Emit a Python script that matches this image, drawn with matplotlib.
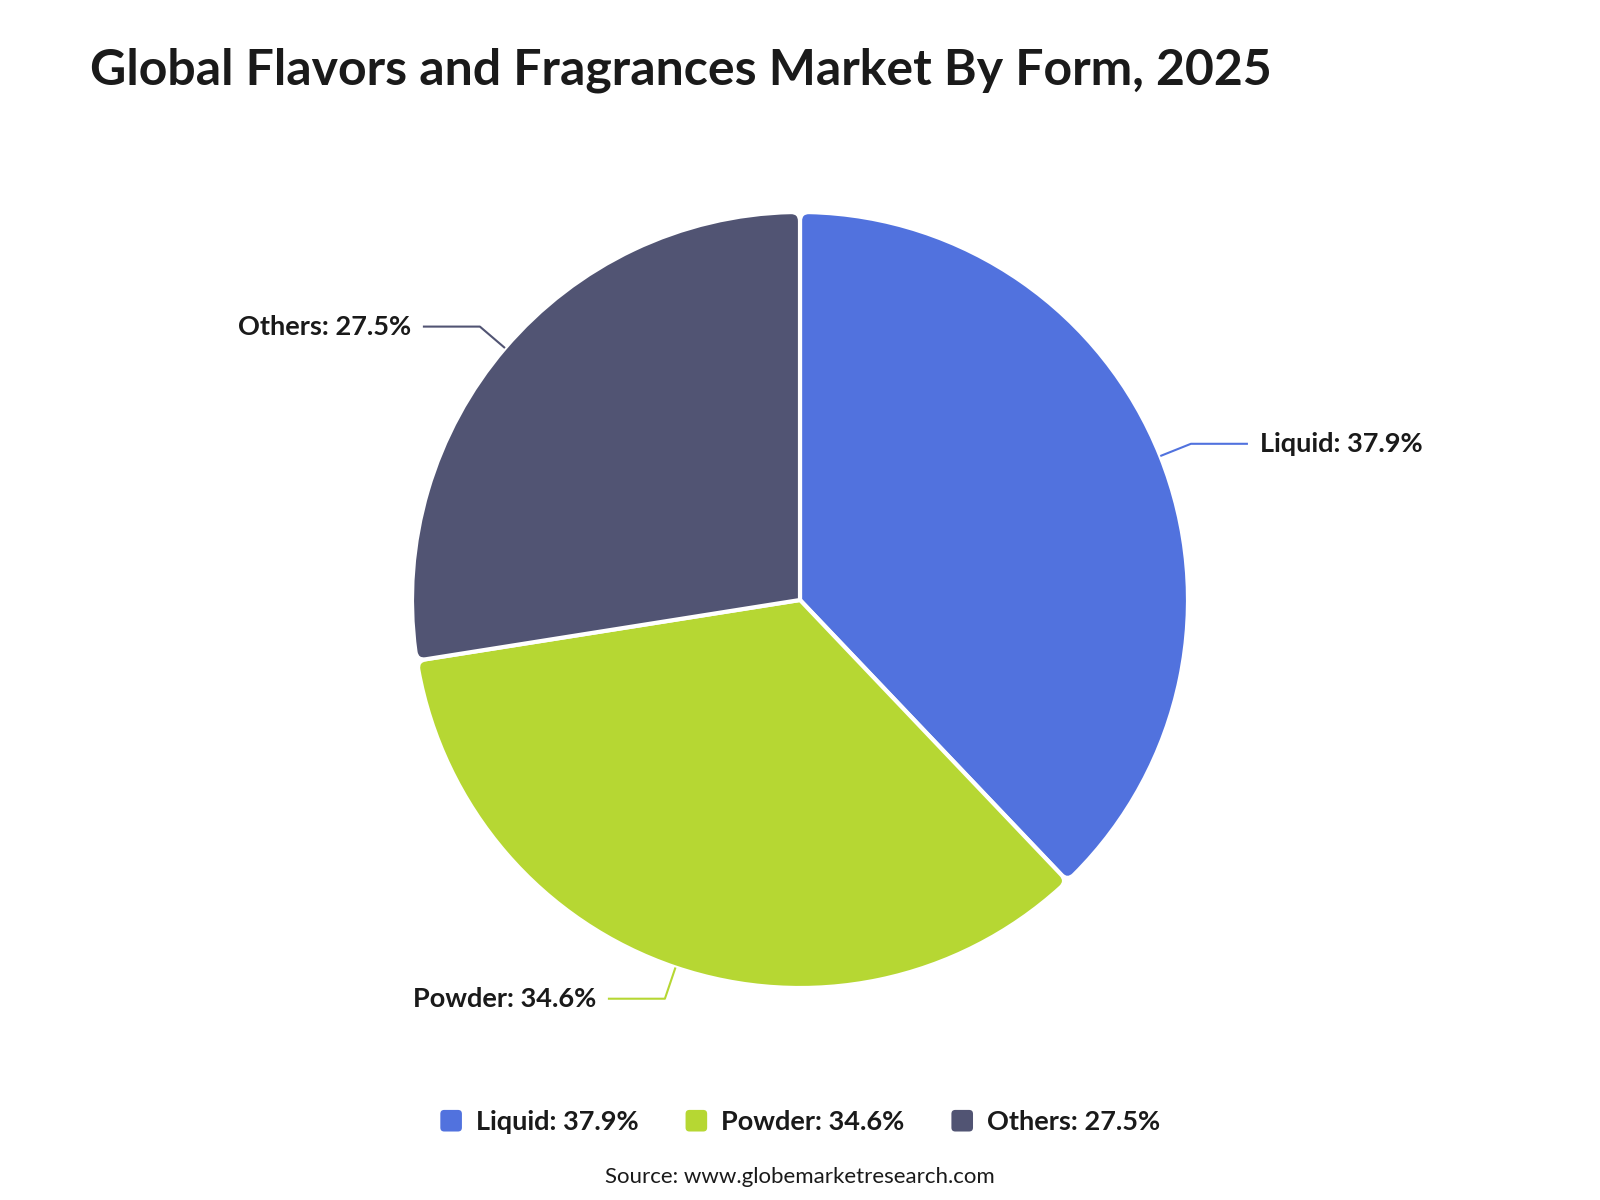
import numpy as np
import matplotlib
matplotlib.use("Agg")
import matplotlib.pyplot as plt
from matplotlib.patches import Patch, PathPatch, FancyBboxPatch
from matplotlib.path import Path
from matplotlib.legend_handler import HandlerPatch

categories = ["Liquid", "Powder", "Others"]
shares = [37.9, 34.6, 27.5]
colors = ["#5172DE", "#B6D733", "#515473"]
title = "Global Flavors and Fragrances Market By Form, 2025"
source = "Source: www.globemarketresearch.com"

FONT = ["Lato", "DejaVu Sans"]
plt.rcParams["font.family"] = FONT

W, H = 1600, 1200
fig = plt.figure(figsize=(16, 12), dpi=100)
ax = fig.add_axes([0, 0, 1, 1])

cx, cy, R = 800, 600, 388
wedges, _ = ax.pie(shares, colors=colors, startangle=90, counterclock=False,
                   center=(cx, cy), radius=R, frame=True,
                   wedgeprops=dict(edgecolor="white", linewidth=3, joinstyle="round"))
ax.set_xlim(0, W)
ax.set_ylim(0, H)
ax.set_aspect("equal")
ax.axis("off")


def rounded_wedge_path(center, r, t1, t2, rc):
    c = np.asarray(center, float)
    a1, a2 = np.deg2rad(t1), np.deg2rad(t2)
    d = np.rad2deg(rc / r)
    u = lambda a: np.array([np.cos(a), np.sin(a)])
    arc = Path.arc(t1 + d, t2 - d)
    verts = [c, c + (r - rc) * u(a1), c + r * u(a1), c + r * u(a1 + np.deg2rad(d))]
    codes = [Path.MOVETO, Path.LINETO, Path.CURVE3, Path.CURVE3]
    verts += list(c + r * arc.vertices[1:])
    codes += list(arc.codes[1:])
    verts += [c + r * u(a2), c + (r - rc) * u(a2), c]
    codes += [Path.CURVE3, Path.CURVE3, Path.CLOSEPOLY]
    return Path(np.array(verts), codes)


for w in wedges:
    w.set_visible(False)
    p = rounded_wedge_path(w.center, w.r, w.theta1, w.theta2, 9)
    ax.add_patch(PathPatch(p, facecolor=w.get_facecolor(), edgecolor="white",
                           linewidth=3, joinstyle="round"))

labels = [f"{c}: {v}%" for c, v in zip(categories, shares)]
for w, lab, col in zip(wedges, labels, colors):
    mid = np.deg2rad((w.theta1 + w.theta2) / 2)
    x0, y0 = cx + R * np.cos(mid), cy + R * np.sin(mid)
    x1, y1 = cx + 1.085 * R * np.cos(mid), cy + 1.085 * R * np.sin(mid)
    s = 1 if np.cos(mid) >= 0 else -1
    x2 = x1 + s * 57
    ax.plot([x0, x1, x2], [y0, y1, y1], color=col, lw=1.5, solid_capstyle="butt")
    ax.text(x2 + s * 12, y1, lab, ha="left" if s > 0 else "right", va="center",
            fontsize=19.5, fontweight="bold", color="#1a1a1a")

fig.text(90 / W, 1 - 70 / H, title, ha="left", va="center",
         fontsize=36, fontweight="bold", color="#1a1a1a")


class RoundHandler(HandlerPatch):
    def create_artists(self, legend, orig_handle, xdescent, ydescent,
                       width, height, fontsize, trans):
        s = min(width, height)
        p = FancyBboxPatch((-xdescent + (width - s) / 2, -ydescent + (height - s) / 2), s, s,
                           boxstyle=f"round,pad=0,rounding_size={s * 0.18}",
                           facecolor=orig_handle.get_facecolor(), edgecolor="none",
                           transform=trans)
        return [p]


handles = [Patch(facecolor=c, edgecolor="none") for c in colors]
leg = fig.legend(handles, labels, loc="center", bbox_to_anchor=(0.5, 1 - 1122 / H),
                 ncol=3, frameon=False, handlelength=0.85, handleheight=0.85,
                 handletextpad=0.5, columnspacing=1.7,
                 handler_map={Patch: RoundHandler()},
                 prop=dict(family=FONT, weight="bold", size=19.5))
for t in leg.get_texts():
    t.set_color("#1a1a1a")

fig.text(0.5, 1 - 1177 / H, source, ha="center", va="center",
         fontsize=16, color="#1a1a1a")

fig.savefig("out.png", dpi=100, facecolor="white")
